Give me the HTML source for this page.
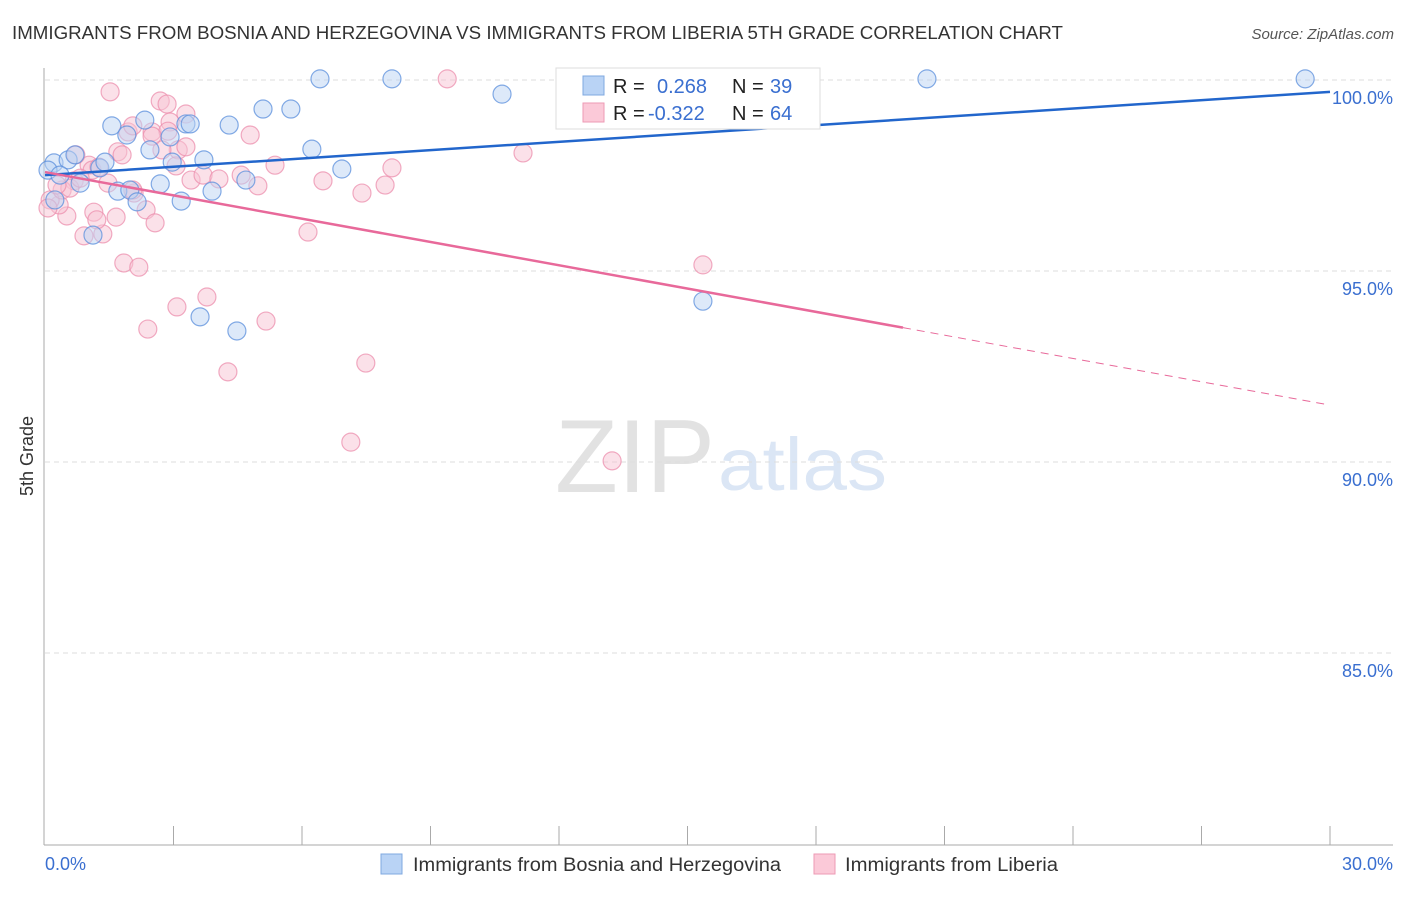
<!DOCTYPE html>
<html><head><meta charset="utf-8"><style>
body{margin:0;background:#fff;font-family:"Liberation Sans",sans-serif;}
svg text{font-family:"Liberation Sans",sans-serif;}
</style></head><body>
<svg id="chart" width="1406" height="892" viewBox="0 0 1406 892">
<text x="12" y="39" font-size="18" fill="#333" textLength="1051" lengthAdjust="spacingAndGlyphs">IMMIGRANTS FROM BOSNIA AND HERZEGOVINA VS IMMIGRANTS FROM LIBERIA 5TH GRADE CORRELATION CHART</text>
<text x="1394" y="39" font-size="15" fill="#555" font-style="italic" text-anchor="end">Source: ZipAtlas.com</text>
<text x="33" y="456" font-size="18" fill="#333" text-anchor="middle" transform="rotate(-90 33 456)">5th Grade</text>
<g>
<text x="555" y="492" font-size="104" fill="#e2e2e2" textLength="160" lengthAdjust="spacingAndGlyphs" font-family="Liberation Serif">ZIP</text>
<text x="718" y="490" font-size="74" fill="#dbe6f5" textLength="169" lengthAdjust="spacingAndGlyphs">atlas</text>
</g>
<g id="grid"></g><g id="axes"></g><g id="marks"></g><g id="lines"></g>
<g>
<rect x="556" y="68" width="264" height="61" fill="#fff" stroke="#ddd"/>
<rect x="583" y="76" width="21" height="19" fill="#b9d3f5" stroke="#7fa8e0"/>
<rect x="583" y="103" width="21" height="19" fill="#fbc9d8" stroke="#ee9ab4"/>
<text x="613" y="93" font-size="20" fill="#222">R = <tspan x="657" fill="#3a6fd0">0.268</tspan><tspan x="732" fill="#222">N = </tspan><tspan x="770" fill="#3a6fd0">39</tspan></text>
<text x="613" y="120" font-size="20" fill="#222">R = <tspan x="648" fill="#3a6fd0">-0.322</tspan><tspan x="732" fill="#222">N = </tspan><tspan x="770" fill="#3a6fd0">64</tspan></text>
</g>
<g>
<rect x="381" y="854" width="21" height="20" fill="#b9d3f5" stroke="#7fa8e0"/>
<text x="413" y="871" font-size="19" fill="#333" textLength="368" lengthAdjust="spacingAndGlyphs">Immigrants from Bosnia and Herzegovina</text>
<rect x="814" y="854" width="21" height="20" fill="#fbc9d8" stroke="#ee9ab4"/>
<text x="845" y="871" font-size="19" fill="#333" textLength="213" lengthAdjust="spacingAndGlyphs">Immigrants from Liberia</text>
</g>
</svg>
<script>
const yTicks=[100,95,90,85];
const yTickLabels=["100.0%","95.0%","90.0%","85.0%"];
const xTickCount=10;
const xEndLabels=["0.0%","30.0%"];
const bosniaX=[0.21,0.54,0.70,1.28,1.40,0.82,1.56,1.91,2.33,2.45,1.70,1.98,2.15,2.69,2.92,2.97,3.18,3.29,3.39,3.71,3.90,4.30,4.69,5.09,5.74,6.23,6.93,6.42,8.10,10.67,15.36,3.62,4.48,20.59,29.42,1.12,0.23,0.07,0.35];
const bosniaY=[97.83,97.91,98.04,97.70,97.85,97.30,98.80,98.56,98.95,98.17,97.09,97.12,96.81,97.28,98.51,97.85,96.83,98.85,98.85,97.91,97.09,98.82,97.38,99.24,99.24,98.19,97.67,100.03,100.03,99.63,94.21,93.80,93.43,100.03,100.03,95.94,96.86,97.64,97.51];
const liberiaX=[1.52,1.94,2.05,2.50,2.69,2.85,3.29,3.11,2.92,4.79,5.37,6.49,7.40,7.94,8.10,9.39,11.16,15.36,13.24,7.14,7.49,4.27,5.16,3.78,3.08,2.40,1.84,2.19,0.91,1.35,1.14,1.21,1.66,2.36,2.57,6.14,2.08,1.47,0.68,0.51,0.33,0.12,0.07,0.40,0.58,1.03,1.10,1.70,1.80,2.73,3.06,3.41,3.69,4.06,4.58,4.97,2.05,0.72,1.26,0.82,0.28,3.29,2.87,2.50];
const liberiaY=[99.69,98.64,98.80,98.64,99.45,99.37,99.11,98.17,98.90,98.56,97.77,97.36,97.04,97.25,97.70,100.03,98.09,95.16,90.03,90.52,92.59,92.36,93.69,94.32,94.06,93.48,95.21,95.10,95.92,95.97,96.54,96.34,96.41,96.60,96.26,96.02,97.04,97.30,97.36,96.44,96.73,96.86,96.65,97.12,97.17,97.77,97.64,98.12,98.04,98.17,97.75,97.38,97.51,97.41,97.51,97.23,97.12,98.04,97.72,97.43,97.25,98.25,98.66,98.53];
const bosniaTrend=[97.51,99.69];
const liberiaTrend=[97.59,91.49];
const liberiaSolidEnd=[20.03];

const NS="http://www.w3.org/2000/svg";
const X0=45,X1=1330,Y100=80,PXY=38.2;
const xs=v=>X0+(X1-X0)*v/30;
const ys=v=>Y100+(100-v)*PXY;
function mk(p,tag,at){const e=document.createElementNS(NS,tag);for(const k in at)e.setAttribute(k,at[k]);p.appendChild(e);return e;}
const grid=document.getElementById('grid'),axes=document.getElementById('axes'),marks=document.getElementById('marks'),lines=document.getElementById('lines');
yTicks.forEach((t,i)=>{
 const l=mk(grid,'line',{x1:45,x2:1393,y1:ys(t),y2:ys(t),stroke:'#ddd','stroke-dasharray':'5,4'});
 
 
 const tx=mk(grid,'text',{x:1393,y:ys(t)+24,'font-size':18,fill:'#3a6fd0','text-anchor':'end'});
 tx.textContent=yTickLabels[i];
 
 
});
let a=mk(axes,'line',{x1:44,x2:44,y1:68,y2:845,stroke:'#aaa'});


a=mk(axes,'line',{x1:44,x2:1393,y1:845,y2:845,stroke:'#aaa'});


for(let i=1;i<=xTickCount;i++){
 const v=30*i/xTickCount;
 const t=mk(axes,'line',{x1:xs(v),x2:xs(v),y1:826,y2:845,stroke:'#aaa'});
 
 
}
[[0,'start',45],[30,'end',1393]].forEach((d,i)=>{
 const t=mk(axes,'text',{x:d[2],y:870,'font-size':18,fill:'#3a6fd0','text-anchor':d[1]});
 t.textContent=xEndLabels[i];
 
 
});
function pts(X,Y,fill,stroke,name){X.forEach((x,i)=>{
 const c=mk(marks,'circle',{cx:xs(x),cy:ys(Y[i]),r:9,fill:fill,'fill-opacity':0.5,stroke:stroke,'stroke-opacity':0.75,'stroke-width':1.2});
 
 
});}
pts(liberiaX,liberiaY,'#f8c3d3','#ec8fae','liberia');
pts(bosniaX,bosniaY,'#bcd4f4','#5b8fdc','bosnia');
let ln=mk(lines,'line',{x1:xs(0),y1:ys(bosniaTrend[0]),x2:xs(30),y2:ys(bosniaTrend[1]),stroke:'#2266cc','stroke-width':2.5});


const lm=v=>liberiaTrend[0]+(liberiaTrend[1]-liberiaTrend[0])*v/30;
ln=mk(lines,'line',{x1:xs(0),y1:ys(lm(0)),x2:xs(liberiaSolidEnd[0]),y2:ys(lm(liberiaSolidEnd[0])),stroke:'#e8699a','stroke-width':2.5});


ln=mk(lines,'line',{x1:xs(liberiaSolidEnd[0]),y1:ys(lm(liberiaSolidEnd[0])),x2:xs(30),y2:ys(lm(30)),stroke:'#e8699a','stroke-width':1,'stroke-dasharray':'8,6'});


</script>
</body></html>
